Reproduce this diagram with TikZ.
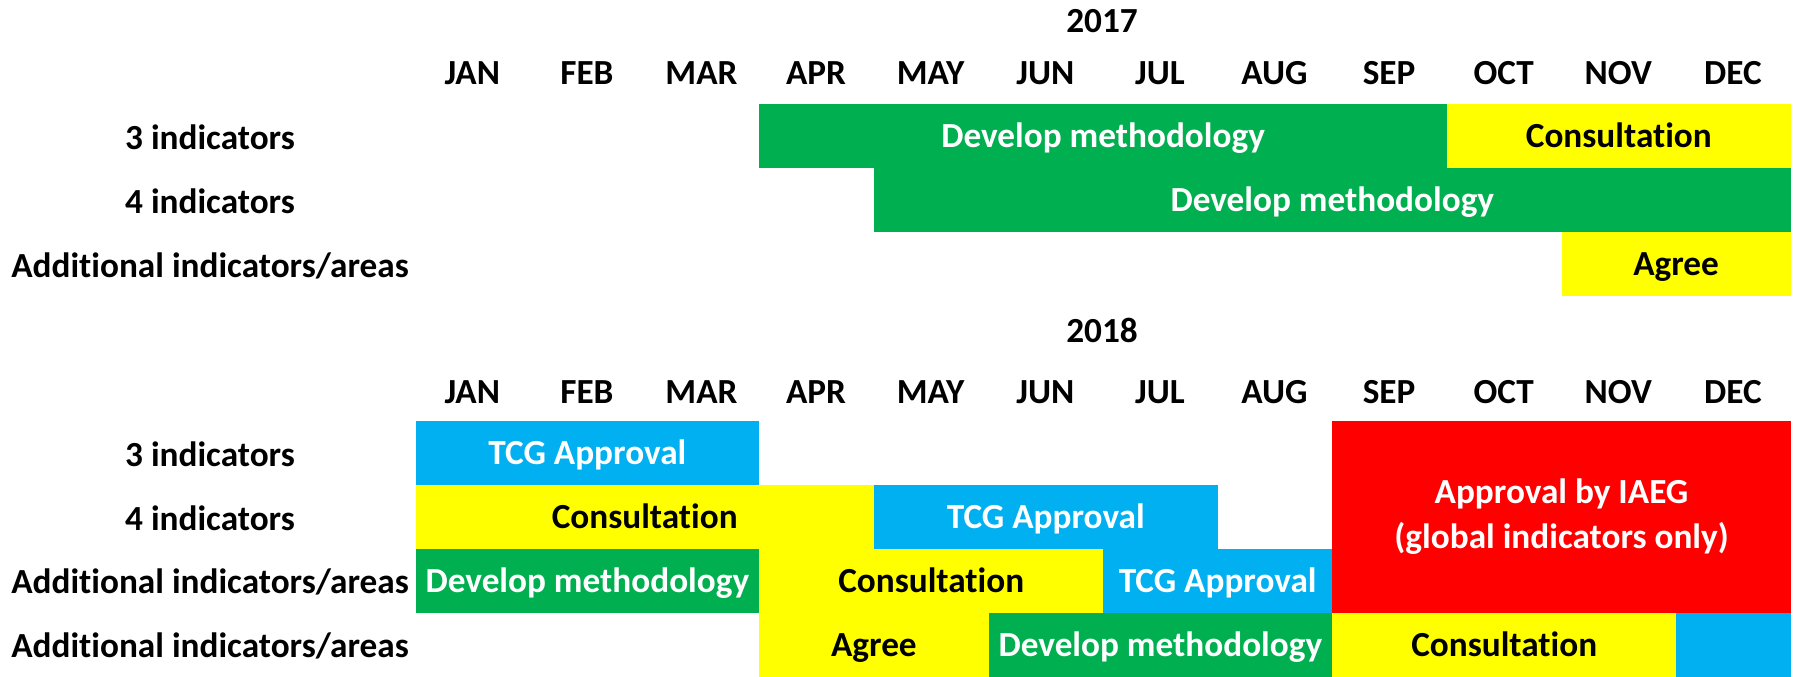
\documentclass[tikz,border=0pt]{standalone}
\usepackage{fontspec}
\setmainfont{Carlito}[Ligatures=NoCommon]
\usetikzlibrary{positioning}

\definecolor{taskgreen}{HTML}{00B050}
\definecolor{taskyellow}{HTML}{FFFF00}
\definecolor{taskblue}{HTML}{00B0F0}
\definecolor{taskred}{HTML}{FF0000}

% left edge of a month column (0 = JAN), in pixels
\newcommand{\monthx}[1]{415+114.6*(#1)}

\tikzset{
  lbl/.style={inner sep=0pt},
  bar/.style={anchor=north west, inner sep=0pt, minimum height=25.6pt},
  oneline/.style={bar, text height=12.6pt, text depth=3pt},
  green/.style={oneline, fill=taskgreen, text=white},
  yellow/.style={oneline, fill=taskyellow, text=black},
  blue/.style={oneline, fill=taskblue, text=white},
  red/.style={bar, fill=taskred, text=white, align=center},
}

\begin{document}
\begin{tikzpicture}[x=0.4pt, y=-0.4pt, font=\fontsize{14.1}{18}\selectfont\bfseries]
  \useasboundingbox (0,0) rectangle (1796,676);

  % 2017
  \node[lbl] (y17) at (1102,21) {2017};
  \foreach \m [count=\i from 0] in {JAN,FEB,MAR,APR,MAY,JUN,JUL,AUG,SEP,OCT,NOV,DEC}
    \node[lbl] (m17-\i) at ({\monthx{\i}+57.3},73) {\m};
  \node[lbl] (r17a) at (210,137) {3 indicators};
  \node[lbl] (r17b) at (210,201) {4 indicators};
  \node[lbl] (r17c) at (210,266) {Additional indicators/areas};

  \node[green,  minimum width=6*45.84pt] (a17dev) at ({\monthx{3}},103) {Develop methodology};
  \node[yellow, minimum width=3*45.84pt] (a17con) at ({\monthx{9}},103) {Consultation};
  \node[green,  minimum width=8*45.84pt] (b17dev) at ({\monthx{4}},167) {Develop methodology};
  \node[yellow, minimum width=2*45.84pt] (c17agr) at ({\monthx{10}},231) {Agree};

  % 2018
  \node[lbl] (y18) at (1102,330) {2018};
  \foreach \m [count=\i from 0] in {JAN,FEB,MAR,APR,MAY,JUN,JUL,AUG,SEP,OCT,NOV,DEC}
    \node[lbl] (m18-\i) at ({\monthx{\i}+57.3},392) {\m};
  \node[lbl] (r18a) at (210,454) {3 indicators};
  \node[lbl] (r18b) at (210,518) {4 indicators};
  \node[lbl] (r18c) at (210,582) {Additional indicators/areas};
  \node[lbl] (r18d) at (210,646) {Additional indicators/areas};

  \node[blue,   minimum width=3*45.84pt] (a18tcg) at ({\monthx{0}},420) {TCG Approval};
  \node[yellow, minimum width=4*45.84pt] (b18con) at ({\monthx{0}},484) {Consultation};
  \node[blue,   minimum width=3*45.84pt] (b18tcg) at ({\monthx{4}},484) {TCG Approval};
  \node[green,  minimum width=3*45.84pt] (c18dev) at ({\monthx{0}},548) {Develop methodology};
  \node[yellow, minimum width=3*45.84pt] (c18con) at ({\monthx{3}},548) {Consultation};
  \node[blue,   minimum width=2*45.84pt] (c18tcg) at ({\monthx{6}},548) {TCG Approval};
  \node[yellow, minimum width=2*45.84pt] (d18agr) at ({\monthx{3}},612) {Agree};
  \node[green,  minimum width=3*45.84pt] (d18dev) at ({\monthx{5}},612) {Develop methodology};
  \node[yellow, minimum width=3*45.84pt] (d18con) at ({\monthx{8}},612) {Consultation};
  \node[blue,   minimum width=1*45.84pt] (d18tcg) at ({\monthx{11}},612) {};
  \node[red,    minimum width=4*45.84pt, minimum height=3*25.6pt] (iaeg) at ({\monthx{8}},420)
    {Approval by IAEG\\(global indicators only)};
\end{tikzpicture}
\end{document}
